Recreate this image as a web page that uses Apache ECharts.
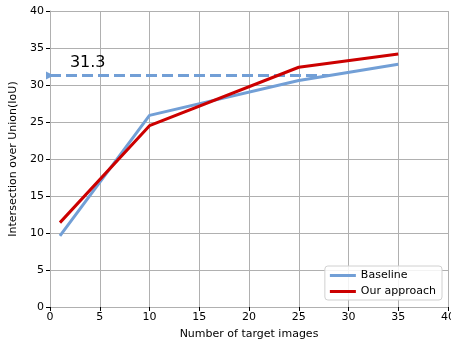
<!DOCTYPE html>
<html>
<head>
<meta charset="utf-8">
<script src="https://cdn.jsdelivr.net/npm/echarts@6/dist/echarts.min.js"></script>
<style>
  html, body { margin: 0; padding: 0; background: #fff; }
  #chart { width: 451px; height: 343px; }
</style>
</head>
<body>
<div id="chart"></div>
<script>
var targetImages = [1, 10, 25, 35]
var baselineIoU = [9.6, 25.9, 30.6, 32.8]
var ourIoU = [11.4, 24.5, 32.4, 34.2]
var refX = [0, 28]
var refValue = 31.3

var chart = echarts.init(document.getElementById("chart"))

var font = "DejaVu Sans"

function pairs(xs, ys) {
    return xs.map(function (x, i) { return [x, ys[i]] })
}

var option = {
    animation: false,
    grid: { left: 50, right: 3, top: 11, bottom: 36, containLabel: false, outerBoundsMode: "none" },
    xAxis: {
        type: "value",
        min: 0, max: 40, interval: 5,
        name: "Number of target images",
        nameLocation: "middle",
        nameGap: 22,
        nameTextStyle: { color: "#000", fontSize: 11, fontFamily: font },
        axisLine: { show: true, lineStyle: { color: "#b0b0b0", width: 1 } },
        axisTick: { show: true, length: 4, lineStyle: { color: "#000" } },
        axisLabel: { color: "#000", fontSize: 11, fontFamily: font, margin: 5, showMaxLabel: true },
        splitLine: { show: true, lineStyle: { color: "#b0b0b0", width: 1 } }
    },
    yAxis: {
        type: "value",
        min: 0, max: 40, interval: 5,
        name: "Intersection over Union(IoU)",
        nameLocation: "middle",
        nameGap: 30,
        nameTextStyle: { color: "#000", fontSize: 11, fontFamily: font },
        axisLine: { show: true, lineStyle: { color: "#b0b0b0", width: 1 } },
        axisTick: { show: true, length: 4, lineStyle: { color: "#000" } },
        axisLabel: { color: "#000", fontSize: 11, fontFamily: font, margin: 6 },
        splitLine: { show: true, lineStyle: { color: "#b0b0b0", width: 1 } }
    },
    legend: {
        right: 9, bottom: 43,
        orient: "vertical",
        itemWidth: 26, itemHeight: 3, itemGap: 5,
        padding: [4, 6, 3, 5],
        borderColor: "#d0d0d0", borderWidth: 1, borderRadius: 3,
        backgroundColor: "rgba(255,255,255,0.85)",
        textStyle: { color: "#000", fontSize: 11, fontFamily: font },
        data: [
            { name: "Baseline", icon: "rect" },
            { name: "Our approach", icon: "rect" }
        ]
    },
    series: [
        {
            name: "ref",
            type: "line",
            data: pairs(refX, [refValue, refValue]),
            symbol: function (v, p) { return p.dataIndex === 0 ? "triangle" : "none" },
            symbolSize: 8,
            symbolRotate: -90,
            itemStyle: { color: "#729fd6" },
            lineStyle: { color: "#729fd6", width: 3, type: [11, 5] },
            label: { show: false },
            z: 1
        },
        {
            name: "Baseline",
            type: "line",
            data: pairs(targetImages, baselineIoU),
            symbol: "none",
            itemStyle: { color: "#729fd6" },
            lineStyle: { color: "#729fd6", width: 3 },
            z: 2
        },
        {
            name: "Our approach",
            type: "line",
            data: pairs(targetImages, ourIoU),
            symbol: "none",
            itemStyle: { color: "#cc0000" },
            lineStyle: { color: "#cc0000", width: 3 },
            z: 3
        },
        {
            name: "refLabel",
            type: "scatter",
            data: [[2, 33]],
            symbolSize: 0,
            silent: true,
            itemStyle: { opacity: 1 },
            label: {
                show: true,
                position: "right",
                distance: 0,
                formatter: String(refValue),
                color: "#000",
                fontSize: 16,
                fontFamily: font
            }
        }
    ]
}

chart.setOption(option)
</script>
</body>
</html>
